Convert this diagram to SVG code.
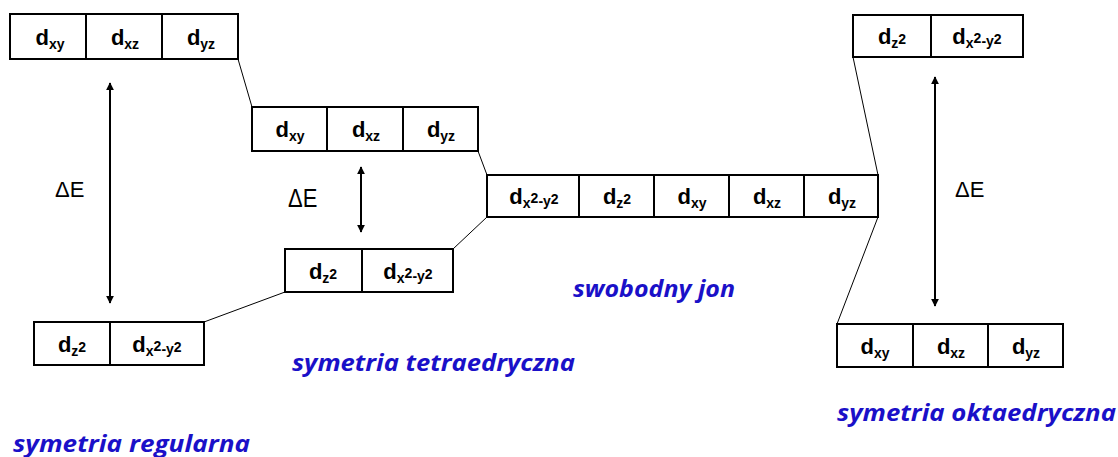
<svg xmlns="http://www.w3.org/2000/svg" width="1118" height="457" viewBox="0 0 1118 457">
<defs>
<style>
.box{fill:#fff;stroke:#000;stroke-width:2}
.div{stroke:#000;stroke-width:2}
.d{font-family:"Liberation Sans",Arial,sans-serif;font-weight:bold;font-size:22px;fill:#000;text-anchor:middle}
.s{font-size:14px}
.de{font-family:"Liberation Sans",Arial,sans-serif;font-size:22px;fill:#000}
.lbl{font-family:"Open Sans","DejaVu Sans",sans-serif;font-weight:bold;font-style:italic;font-size:23px;fill:#1a10c8}
.conn{stroke:#000;stroke-width:1;fill:none}
.arr{stroke:#000;stroke-width:2;fill:none}
</style>
<marker id="ah" viewBox="0 0 10 10" refX="9" refY="5" markerWidth="4" markerHeight="4" orient="auto-start-reverse" markerUnits="strokeWidth">
<path d="M0,0 L10,5 L0,10 z" fill="#000"/>
</marker>
</defs>

<g id="connectors">
<line class="conn" x1="238" y1="59" x2="252" y2="107"/>
<line class="conn" x1="478" y1="151" x2="487" y2="175"/>
<line class="conn" x1="487" y1="217" x2="453" y2="249"/>
<line class="conn" x1="285" y1="292" x2="204" y2="322"/>
<line class="conn" x1="878" y1="175" x2="853" y2="57"/>
<line class="conn" x1="878" y1="217" x2="837" y2="324"/>
<line class="arr" x1="110" y1="83" x2="110" y2="303" marker-start="url(#ah)" marker-end="url(#ah)"/>
<line class="arr" x1="361" y1="167" x2="361" y2="232" marker-start="url(#ah)" marker-end="url(#ah)"/>
<line class="arr" x1="935" y1="77" x2="935" y2="306" marker-start="url(#ah)" marker-end="url(#ah)"/>
</g>

<g id="regular-top">
<rect class="box" x="10" y="14" width="228" height="45"/>
<line class="div" x1="86" y1="14" x2="86" y2="59"/>
<line class="div" x1="162" y1="14" x2="162" y2="59"/>
<text class="d" x="50" y="45">d<tspan class="s" dy="4">xy</tspan></text>
<text class="d" x="125" y="45">d<tspan class="s" dy="4">xz</tspan></text>
<text class="d" x="201" y="45">d<tspan class="s" dy="4">yz</tspan></text>
</g>

<g id="regular-bottom">
<rect class="box" x="34" y="322" width="170" height="43"/>
<line class="div" x1="110" y1="322" x2="110" y2="365"/>
<text class="d" x="72" y="352">d<tspan class="s" dy="4">z</tspan><tspan class="s" dy="-4">2</tspan></text>
<text class="d" x="157" y="352">d<tspan class="s" dy="4">x</tspan><tspan class="s" dy="-5">2</tspan><tspan class="s" dy="3">-y</tspan><tspan class="s" dy="-2">2</tspan></text>
</g>

<g id="tetra-top">
<rect class="box" x="252" y="107" width="226" height="44"/>
<line class="div" x1="327" y1="107" x2="327" y2="151"/>
<line class="div" x1="403" y1="107" x2="403" y2="151"/>
<text class="d" x="290" y="137">d<tspan class="s" dy="4">xy</tspan></text>
<text class="d" x="366" y="137">d<tspan class="s" dy="4">xz</tspan></text>
<text class="d" x="441" y="137">d<tspan class="s" dy="4">yz</tspan></text>
</g>

<g id="tetra-bottom">
<rect class="box" x="285" y="249" width="168" height="43"/>
<line class="div" x1="362" y1="249" x2="362" y2="292"/>
<text class="d" x="323" y="279">d<tspan class="s" dy="4">z</tspan><tspan class="s" dy="-4">2</tspan></text>
<text class="d" x="408" y="279">d<tspan class="s" dy="4">x</tspan><tspan class="s" dy="-5">2</tspan><tspan class="s" dy="3">-y</tspan><tspan class="s" dy="-2">2</tspan></text>
</g>

<g id="free-ion">
<rect class="box" x="487" y="175" width="391" height="42"/>
<line class="div" x1="579" y1="175" x2="579" y2="217"/>
<line class="div" x1="654" y1="175" x2="654" y2="217"/>
<line class="div" x1="729" y1="175" x2="729" y2="217"/>
<line class="div" x1="804" y1="175" x2="804" y2="217"/>
<text class="d" x="534" y="204">d<tspan class="s" dy="4">x</tspan><tspan class="s" dy="-5">2</tspan><tspan class="s" dy="3">-y</tspan><tspan class="s" dy="-2">2</tspan></text>
<text class="d" x="617" y="204">d<tspan class="s" dy="4">z</tspan><tspan class="s" dy="-4">2</tspan></text>
<text class="d" x="692" y="204">d<tspan class="s" dy="4">xy</tspan></text>
<text class="d" x="767" y="204">d<tspan class="s" dy="4">xz</tspan></text>
<text class="d" x="842" y="204">d<tspan class="s" dy="4">yz</tspan></text>
</g>

<g id="okta-top">
<rect class="box" x="853" y="15" width="170" height="42"/>
<line class="div" x1="931" y1="15" x2="931" y2="57"/>
<text class="d" x="892" y="44">d<tspan class="s" dy="4">z</tspan><tspan class="s" dy="-4">2</tspan></text>
<text class="d" x="977" y="44">d<tspan class="s" dy="4">x</tspan><tspan class="s" dy="-5">2</tspan><tspan class="s" dy="3">-y</tspan><tspan class="s" dy="-2">2</tspan></text>
</g>

<g id="okta-bottom">
<rect class="box" x="837" y="324" width="226" height="43"/>
<line class="div" x1="913" y1="324" x2="913" y2="367"/>
<line class="div" x1="988" y1="324" x2="988" y2="367"/>
<text class="d" x="875" y="354">d<tspan class="s" dy="4">xy</tspan></text>
<text class="d" x="951" y="354">d<tspan class="s" dy="4">xz</tspan></text>
<text class="d" x="1026" y="354">d<tspan class="s" dy="4">yz</tspan></text>
</g>

<g id="delta-labels">
<text class="de" x="55" y="197">ΔE</text>
<text class="de" x="288" y="207" transform="translate(0,-41) scale(1,1.2)">ΔE</text>
<text class="de" x="955" y="197">ΔE</text>
</g>

<g id="labels">
<text class="lbl" x="573" y="297" textLength="162" lengthAdjust="spacingAndGlyphs">swobodny jon</text>
<text class="lbl" x="292" y="371" textLength="283" lengthAdjust="spacingAndGlyphs">symetria tetraedryczna</text>
<text class="lbl" x="837" y="421" textLength="279" lengthAdjust="spacingAndGlyphs">symetria oktaedryczna</text>
<text class="lbl" x="13" y="452" textLength="237" lengthAdjust="spacingAndGlyphs">symetria regularna</text>
</g>
</svg>
